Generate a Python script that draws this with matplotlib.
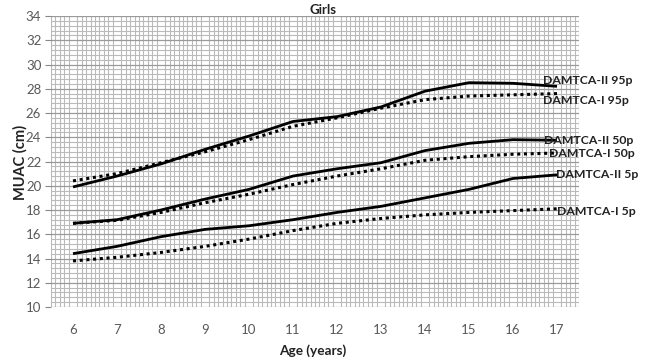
import numpy as np
import matplotlib as mpl
mpl.use('Agg')
import matplotlib.pyplot as plt

# Age categories and MUAC percentile curves (cm)
ages = [6, 7, 8, 9, 10, 11, 12, 13, 14, 15, 16, 17]
ii_95 = [19.9, 20.8, 21.8, 23.0, 24.1, 25.3, 25.7, 26.5, 27.8, 28.5, 28.45, 28.2]
i_95 = [20.4, 21.0, 21.9, 22.8, 23.8, 24.9, 25.6, 26.4, 27.1, 27.4, 27.5, 27.6]
ii_50 = [16.9, 17.2, 18.0, 18.9, 19.7, 20.8, 21.4, 21.9, 22.9, 23.5, 23.8, 23.75]
i_50 = [16.9, 17.15, 17.8, 18.6, 19.3, 20.1, 20.8, 21.4, 22.1, 22.4, 22.6, 22.7]
ii_5 = [14.4, 15.0, 15.8, 16.4, 16.7, 17.2, 17.8, 18.3, 19.0, 19.7, 20.6, 20.9]
i_5 = [13.8, 14.1, 14.5, 15.0, 15.6, 16.3, 16.9, 17.3, 17.6, 17.8, 17.95, 18.1]
series_names = ['DAMTCA-II 95p', 'DAMTCA-I 95p', 'DAMTCA-II 50p',
                'DAMTCA-I 50p', 'DAMTCA-II 5p', 'DAMTCA-I 5p']
y_ticks = list(range(10, 35, 2))

plt.rcParams['font.family'] = ['Lato', 'DejaVu Sans']

fig = plt.figure(figsize=(6.48, 3.61), dpi=100)
ax = fig.add_axes([51 / 648, 1 - 307 / 361, 528 / 648, 291 / 361])

# graph-paper style grid
ax.set_xlim(5.5, 17.5)
ax.set_ylim(10, 34)
ax.set_xticks(np.arange(5.5, 17.51, 0.1), minor=True)
ax.set_yticks(np.arange(10, 34.01, 0.4), minor=True)
ax.grid(which='minor', color='#bababa', linewidth=0.8)
ax.set_yticks(y_ticks)
ax.set_xticks(ages)
ax.grid(which='major', axis='y', color='#9a9a9a', linewidth=0.9)
ax.set_axisbelow(True)
for s in ax.spines.values():
    s.set_visible(False)
ax.tick_params(axis='y', which='major', length=4, color='#888888',
               labelsize=9.5, labelcolor='#595959', pad=3)
ax.tick_params(axis='x', which='major', length=0, labelsize=9.5,
               labelcolor='#595959', pad=12)
ax.tick_params(which='minor', length=0)

all_series = [ii_95, i_95, ii_50, i_50, ii_5, i_5]
offsets = [(-10, 4), (-10, -5), (-9, 0), (-6, 0), (-1, 0), (0, -2)]
for i, (vals, name) in enumerate(zip(all_series, series_names)):
    if 'II' in name:
        ax.plot(ages, vals, color='black', linewidth=2.0, solid_capstyle='butt')
    else:
        ax.plot(ages, vals, color='black', linewidth=2.2,
                linestyle=(0, (1, 1.2)))
    ax.annotate(name, xy=(ages[-1], vals[-1]), xytext=offsets[i],
                textcoords='offset points', ha='left', va='center',
                fontsize=8.8, fontweight='bold', color='#222222',
                annotation_clip=False)

fig.text(323 / 648, 1 - 10 / 361, 'Girls', ha='center', va='center',
         fontsize=9.5, fontweight='bold', color='#222222')
fig.text(313 / 648, 1 - 351 / 361, 'Age (years)', ha='center', va='center',
         fontsize=9.8, fontweight='bold', color='#222222')
fig.text(20 / 648, 1 - 162 / 361, 'MUAC (cm)', ha='center', va='center',
         rotation=90, fontsize=10.5, fontweight='bold', color='#222222')

fig.savefig('out.png', dpi=100)
